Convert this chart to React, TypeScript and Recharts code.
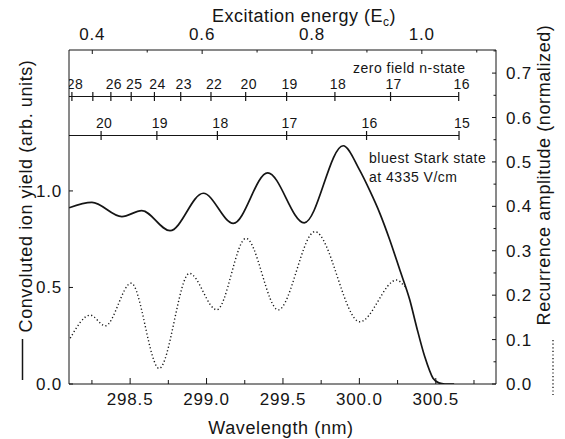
import { ComposedChart, Line, Scatter, XAxis, YAxis, ReferenceLine } from "recharts";

const FONT = '"Liberation Sans", Arial, Helvetica, sans-serif';
const INK = "#151515";

// solid curve: convoluted ion yield (left axis)
const SOLID_WL = [
  298.101, 298.25, 298.446, 298.576, 298.761, 298.979, 299.175, 299.4, 299.639, 299.894,
  300.0, 300.069, 300.134, 300.199, 300.265, 300.33, 300.374, 300.428, 300.482, 300.52, 300.56, 300.62,
];
const SOLID_YIELD = [
  0.913, 0.941, 0.867, 0.898, 0.794, 0.988, 0.832, 1.094, 0.835, 1.234,
  1.11, 1.0, 0.884, 0.746, 0.59, 0.435, 0.297, 0.141, 0.03, 0.006, 0.0, 0.0,
];

// dotted curve: recurrence amplitude (right axis)
const DOT_WL = [
  298.108, 298.239, 298.337, 298.507, 298.69, 298.888, 299.067, 299.258, 299.469, 299.709,
  300.003, 300.243, 300.297,
];
const DOT_AMP = [0.103, 0.155, 0.131, 0.227, 0.035, 0.249, 0.167, 0.328, 0.167, 0.343, 0.14, 0.234, 0.219];

// axes
const WL_DOMAIN = [298.1, 300.894];
const WL_TICKS = [298.25, 298.5, 298.75, 299.0, 299.25, 299.5, 299.75, 300.0, 300.25, 300.5, 300.75];
const WL_LABELED = [298.5, 299.0, 299.5, 300.0, 300.5];
const E_DOMAIN = [0.3576, 1.135];
const E_TICKS = [0.4, 0.5, 0.6, 0.7, 0.8, 0.9, 1.0, 1.1];
const E_LABELED = [0.4, 0.6, 0.8, 1.0];
const LEFT_DOMAIN = [0, 1.73];
const LEFT_TICKS = [0, 0.5, 1.0];
const RIGHT_DOMAIN = [0, 0.752];
const RIGHT_TICKS = [0, 0.05, 0.1, 0.15, 0.2, 0.25, 0.3, 0.35, 0.4, 0.45, 0.5, 0.55, 0.6, 0.65, 0.7, 0.75];

// n-state scales drawn inside the plot (wavelength of each mark)
const ZERO_N = ["28", "", "26", "25", "24", "23", "22", "20", "19", "18", "17", "16"];
const ZERO_WL = [298.119, 298.256, 298.374, 298.507, 298.659, 298.831, 299.029, 299.256, 299.524, 299.84, 300.204, 300.65];
const STARK_N = ["20", "19", "18", "17", "16", "15"];
const STARK_WL = [298.31, 298.675, 299.071, 299.524, 300.047, 300.652];
const ZERO_ROW = 1.489; // in left-axis units
const STARK_ROW = 1.287;

const solidData = SOLID_WL.map((x, i) => ({ x, y: SOLID_YIELD[i] }));
const dotData = DOT_WL.map((x, i) => ({ x, y: DOT_AMP[i] }));
const zeroData = ZERO_WL.map((x, i) => ({ x, y: ZERO_ROW, n: ZERO_N[i] }));
const starkData = STARK_WL.map((x, i) => ({ x, y: STARK_ROW, n: STARK_N[i] }));
// empty series so the top energy axis gets registered
const energyData = E_TICKS.map((x) => ({ x, y: null }));

const near = (list: number[], v: number) => list.some((t) => Math.abs(t - v) < 1e-6);

const txt = { fontFamily: FONT, fill: INK } as const;

function BottomTick({ x, y, payload }: any) {
  const major = near(WL_LABELED, payload.value);
  return (
    <g>
      <line x1={x} x2={x} y1={y} y2={y - (major ? 6 : 4)} stroke={INK} strokeWidth={1} />
      {major && (
        <text x={x} y={y + 21} textAnchor="middle" fontSize={17} letterSpacing={0.8} {...txt}>
          {payload.value.toFixed(1)}
        </text>
      )}
    </g>
  );
}

function TopTick({ x, y, payload }: any) {
  const major = near(E_LABELED, payload.value);
  return (
    <g>
      <line x1={x} x2={x} y1={y} y2={y + (major ? 4 : 2.5)} stroke={INK} strokeWidth={1} />
      {major && (
        <text x={x} y={y - 10} textAnchor="middle" fontSize={17} letterSpacing={0.8} {...txt}>
          {payload.value.toFixed(1)}
        </text>
      )}
    </g>
  );
}

function LeftTick({ x, y, payload }: any) {
  return (
    <g>
      <line x1={x} x2={x + 4} y1={y} y2={y} stroke={INK} strokeWidth={1} />
      <text x={x - 7} y={y + 6} textAnchor="end" fontSize={17} letterSpacing={0.8} {...txt}>
        {payload.value.toFixed(1)}
      </text>
    </g>
  );
}

function RightTick({ x, y, payload }: any) {
  const v = payload.value;
  const major = Math.abs(v * 10 - Math.round(v * 10)) < 1e-6;
  return (
    <g>
      <line x1={x} x2={x - (major ? 4 : 2.5)} y1={y} y2={y} stroke={INK} strokeWidth={1} />
      {major && (
        <text x={x + 10} y={y + 6} textAnchor="start" fontSize={17} letterSpacing={0.8} {...txt}>
          {v.toFixed(1)}
        </text>
      )}
    </g>
  );
}

function NTick({ cx, cy, payload }: any) {
  return (
    <g>
      <line x1={cx} x2={cx} y1={cy - 4.5} y2={cy + 4.5} stroke={INK} strokeWidth={1.2} />
      {payload.n && (
        <text x={cx + 3} y={cy - 7.5} textAnchor="middle" fontSize={14} letterSpacing={0.3} {...txt}>
          {payload.n}
        </text>
      )}
    </g>
  );
}

export default function App() {
  return (
    <div style={{ position: "absolute", left: 0, top: 0, width: 565, height: 439, background: "#fff" }}>
      <ComposedChart width={565} height={439} margin={{ top: 0, right: 0, bottom: 0, left: 0 }}>
        <XAxis
          xAxisId="w"
          dataKey="x"
          type="number"
          domain={WL_DOMAIN}
          ticks={WL_TICKS}
          interval={0}
          allowDataOverflow
          height={55}
          tickSize={0}
          tickMargin={0}
          tickLine={false}
          axisLine={{ stroke: INK }}
          tick={BottomTick}
        />
        <XAxis
          xAxisId="e"
          dataKey="x"
          orientation="top"
          type="number"
          domain={E_DOMAIN}
          ticks={E_TICKS}
          interval={0}
          allowDataOverflow
          height={50}
          tickSize={0}
          tickMargin={0}
          tickLine={false}
          axisLine={{ stroke: INK }}
          tick={TopTick}
        />
        <YAxis
          yAxisId="l"
          type="number"
          domain={LEFT_DOMAIN}
          ticks={LEFT_TICKS}
          interval={0}
          allowDataOverflow
          width={69}
          tickSize={0}
          tickMargin={0}
          tickLine={false}
          axisLine={{ stroke: INK }}
          tick={LeftTick}
        />
        <YAxis
          yAxisId="r"
          orientation="right"
          type="number"
          domain={RIGHT_DOMAIN}
          ticks={RIGHT_TICKS}
          interval={0}
          allowDataOverflow
          width={69}
          tickSize={0}
          tickMargin={0}
          tickLine={false}
          axisLine={{ stroke: INK }}
          tick={RightTick}
        />
        <ReferenceLine
          xAxisId="w"
          yAxisId="l"
          segment={[{ x: WL_DOMAIN[0], y: ZERO_ROW }, { x: ZERO_WL[ZERO_WL.length - 1], y: ZERO_ROW }]}
          stroke={INK}
          strokeWidth={1.1}
          ifOverflow="visible"
        />
        <ReferenceLine
          xAxisId="w"
          yAxisId="l"
          segment={[{ x: WL_DOMAIN[0], y: STARK_ROW }, { x: STARK_WL[STARK_WL.length - 1], y: STARK_ROW }]}
          stroke={INK}
          strokeWidth={1.1}
          ifOverflow="visible"
        />
        <Line
          xAxisId="e"
          yAxisId="l"
          data={energyData}
          dataKey="y"
          stroke="none"
          dot={false}
          legendType="none"
          isAnimationActive={false}
        />
        <Scatter xAxisId="w" yAxisId="l" data={zeroData} dataKey="y" shape={NTick} isAnimationActive={false} />
        <Scatter xAxisId="w" yAxisId="l" data={starkData} dataKey="y" shape={NTick} isAnimationActive={false} />
        <Line
          xAxisId="w"
          yAxisId="r"
          data={dotData}
          dataKey="y"
          type="monotone"
          stroke={INK}
          strokeWidth={1.4}
          strokeDasharray="1.2 2.4"
          dot={false}
          isAnimationActive={false}
        />
        <Line
          xAxisId="w"
          yAxisId="l"
          data={solidData}
          dataKey="y"
          type="monotone"
          stroke={INK}
          strokeWidth={1.7}
          dot={false}
          isAnimationActive={false}
        />
      </ComposedChart>
      <svg
        width={565}
        height={439}
        style={{ position: "absolute", left: 0, top: 0, pointerEvents: "none" }}
      >
        <text x={304} y={22} textAnchor="middle" fontSize={18} letterSpacing={0.5} {...txt}>
          Excitation energy (E
          <tspan fontSize={12} dy={4}>c</tspan>
          <tspan dy={-4}>)</tspan>
        </text>
        <text x={281} y={434} textAnchor="middle" fontSize={18} letterSpacing={0.6} {...txt}>
          Wavelength (nm)
        </text>
        <text
          transform="translate(32,196) rotate(-90)"
          textAnchor="middle"
          fontSize={18}
          letterSpacing={0.6}
          {...txt}
        >
          Convoluted ion yield (arb. units)
        </text>
        <line x1={22.5} x2={22.5} y1={339} y2={380} stroke={INK} strokeWidth={1.5} />
        <text
          transform="translate(550,175) rotate(-90)"
          textAnchor="middle"
          fontSize={18}
          letterSpacing={0.6}
          {...txt}
        >
          Recurrence amplitude (normalized)
        </text>
        <line x1={553} x2={553} y1={340} y2={395} stroke={INK} strokeWidth={1.3} strokeDasharray="1.2 2.4" />
        <text x={353} y={73} fontSize={14} letterSpacing={0.5} {...txt}>
          zero field n-state
        </text>
        <text x={369} y={163} fontSize={14} letterSpacing={0.5} {...txt}>
          bluest Stark state
        </text>
        <text x={369} y={182} fontSize={14} letterSpacing={0.5} {...txt}>
          at 4335 V/cm
        </text>
      </svg>
    </div>
  );
}
